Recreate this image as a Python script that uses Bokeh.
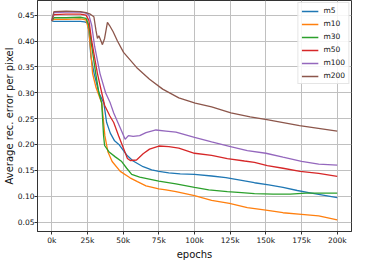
from bokeh.plotting import figure
from bokeh.models import Range1d, FixedTicker
from bokeh.embed import file_html
from bokeh.resources import INLINE

series_names = ["m5", "m10", "m30", "m50", "m100", "m200"]
series_colors = ["#1f77b4", "#ff7f0e", "#2ca02c", "#d62728", "#9467bd", "#8c564b"]

m5_x = [0, 1500, 10000, 20000, 23000, 25000, 26000, 27400, 29700, 33000, 36500, 38400, 41000, 44000,
        47000, 50000, 53000, 57000, 64000, 70000, 75000, 82000, 90000, 100000, 112000, 122000, 132000,
        142000, 152000, 162000, 172000, 180000, 190000, 200000]
m5_y = [0.439, 0.438, 0.438, 0.438, 0.437, 0.435, 0.42, 0.37, 0.337, 0.300, 0.280, 0.243, 0.222, 0.207,
        0.200, 0.189, 0.178, 0.168, 0.157, 0.151, 0.148, 0.145, 0.143, 0.142, 0.139, 0.136, 0.131,
        0.126, 0.122, 0.117, 0.111, 0.107, 0.102, 0.097]

m10_x = [0, 1500, 10000, 20000, 24000, 26000, 27000, 28600, 31000, 33000, 35000, 37200, 39300, 42300,
         48000, 54800, 60000, 66000, 75000, 80000, 87000, 100000, 112000, 124500, 137000, 150000,
         162000, 175000, 187000, 200000]
m10_y = [0.439, 0.442, 0.442, 0.443, 0.441, 0.42, 0.39, 0.337, 0.310, 0.295, 0.280, 0.217, 0.186, 0.167,
         0.148, 0.1355, 0.128, 0.120, 0.114, 0.112, 0.109, 0.101, 0.092, 0.086, 0.078, 0.073,
         0.068, 0.065, 0.062, 0.054]

m30_x = [0, 1500, 10000, 20000, 24000, 26000, 28000, 30800, 33000, 35000, 36300, 37000, 40000, 44500,
         49000, 52500, 56000, 61600, 75000, 87000, 100000, 110000, 123000, 133000, 142000, 155000,
         167000, 178000, 190000, 200000]
m30_y = [0.439, 0.445, 0.445, 0.446, 0.444, 0.43, 0.39, 0.337, 0.300, 0.280, 0.217, 0.198, 0.186, 0.176,
         0.167, 0.154, 0.142, 0.137, 0.129, 0.124, 0.117, 0.112, 0.109, 0.107, 0.105, 0.104,
         0.104, 0.106, 0.106, 0.106]

m50_x = [0, 1500, 10000, 20000, 24000, 26000, 28000, 32000, 35000, 37000, 40700, 43400, 46800, 50300,
         53000, 55000, 59400, 64000, 68500, 75000, 82000, 89000, 100000, 112000, 123000, 135000,
         142000, 151000, 162000, 174000, 187000, 200000]
m50_y = [0.439, 0.451, 0.452, 0.452, 0.450, 0.44, 0.40, 0.337, 0.300, 0.276, 0.255, 0.2425, 0.217, 0.192,
         0.173, 0.169, 0.170, 0.182, 0.191, 0.197, 0.196, 0.193, 0.183, 0.179, 0.1725, 0.168,
         0.1655, 0.159, 0.154, 0.148, 0.144, 0.1385]

m100_x = [0, 1500, 10000, 20000, 24000, 26000, 28000, 30000, 33800, 37700, 41000, 43400, 48000, 51400,
          53700, 57000, 61600, 66000, 73000, 80000, 87000, 100000, 112000, 124500, 137000, 150000,
          162000, 175000, 187000, 200000]
m100_y = [0.439, 0.455, 0.456, 0.456, 0.454, 0.45, 0.43, 0.39, 0.337, 0.300, 0.280, 0.261, 0.232, 0.210,
          0.217, 0.2155, 0.217, 0.223, 0.228, 0.226, 0.224, 0.2135, 0.205, 0.1965, 0.188, 0.183,
          0.1755, 0.1675, 0.162, 0.160]

m200_x = [0, 1500, 10000, 20000, 24000, 27000, 29500, 31000, 32000, 33000, 34500, 35500, 37000, 39000,
          40500, 43000, 46000, 50300, 59400, 68500, 77700, 89000, 100500, 112000, 125500, 139000,
          150700, 173600, 200000]
m200_y = [0.439, 0.457, 0.458, 0.457, 0.455, 0.452, 0.447, 0.42, 0.405, 0.410, 0.400, 0.393, 0.405, 0.436,
          0.430, 0.418, 0.400, 0.378, 0.349, 0.326, 0.307, 0.290, 0.280, 0.2725, 0.261, 0.2535,
          0.248, 0.2365, 0.226]

series_x = [m5_x, m10_x, m30_x, m50_x, m100_x, m200_x]
series_y = [m5_y, m10_y, m30_y, m50_y, m100_y, m200_y]

x_ticks = [0, 25000, 50000, 75000, 100000, 125000, 150000, 175000, 200000]
x_tick_labels = ["0k", "25k", "50k", "75k", "100k", "125k", "150k", "175k", "200k"]
y_ticks = [0.05, 0.10, 0.15, 0.20, 0.25, 0.30, 0.35, 0.40, 0.45]
y_tick_labels = ["0.05", "0.10", "0.15", "0.20", "0.25", "0.30", "0.35", "0.40", "0.45"]

FONT = "DejaVu Sans"

p = figure(width=357, height=262, output_backend="svg", toolbar_location=None,
           x_range=Range1d(-10000, 210000), y_range=Range1d(0.0317, 0.4784),
           min_border_left=0, min_border_right=6, min_border_top=0, min_border_bottom=0)

for name, col, xs, ys in zip(series_names, series_colors, series_x, series_y):
    p.line(xs, ys, line_color=col, line_width=1.3, legend_label=name)

p.xaxis.ticker = FixedTicker(ticks=x_ticks)
p.xaxis.major_label_overrides = {t: l for t, l in zip(x_ticks, x_tick_labels)}
p.yaxis.ticker = FixedTicker(ticks=y_ticks)
p.yaxis.major_label_overrides = {t: l for t, l in zip(y_ticks, y_tick_labels)}

p.xaxis.axis_label = "epochs"
p.yaxis.axis_label = "Average rec. error per pixel"

for ax in (p.xaxis, p.yaxis):
    ax.axis_label_text_font = FONT
    ax.axis_label_text_font_size = "10px"
    ax.axis_label_text_font_style = "normal"
    ax.axis_label_text_color = "#111111"
    ax.major_label_text_font = FONT
    ax.major_label_text_font_size = "7.5px"
    ax.major_label_text_color = "#111111"
    ax.major_tick_out = 3
    ax.major_tick_in = 0
    ax.minor_tick_out = 0
    ax.minor_tick_in = 0
    ax.major_tick_line_color = "#333333"
    ax.axis_line_color = "#333333"

p.yaxis.major_label_standoff = 0
p.yaxis.axis_label_standoff = 0
p.xaxis.major_label_standoff = 1
p.xaxis.axis_label_standoff = 1

p.xgrid.grid_line_color = "#c0c0c0"
p.ygrid.grid_line_color = "#c0c0c0"
p.xgrid.grid_line_width = 1
p.ygrid.grid_line_width = 1
p.outline_line_color = "#333333"
p.outline_line_width = 1

p.legend.location = "top_right"
p.legend.margin = 2
p.legend.padding = 3
p.legend.spacing = 4
p.legend.glyph_width = 17
p.legend.glyph_height = 8
p.legend.label_height = 8
p.legend.label_standoff = 5
p.legend.label_text_font = FONT
p.legend.label_text_font_size = "7.5px"
p.legend.label_text_color = "#111111"
p.legend.border_line_color = "#cccccc"
p.legend.background_fill_alpha = 0.85

open("out.html", "w").write(file_html(p, INLINE))
